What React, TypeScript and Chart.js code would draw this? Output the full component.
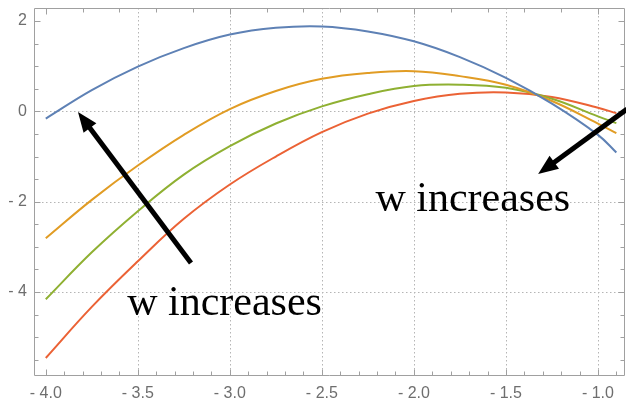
import React, { useEffect, useRef } from "react";
import { Chart, registerables } from "chart.js";

Chart.register(...registerables);

const xValues = [-4, -3.75, -3.5, -3.25, -3, -2.75, -2.5, -2.25, -2, -1.75, -1.5, -1.25, -1, -0.9];
const blueValues = [-0.16, 0.47, 0.99, 1.4, 1.7, 1.85, 1.88, 1.77, 1.55, 1.2, 0.74, 0.17, -0.52, -0.91];
const orangeValues = [-2.81, -1.96, -1.2, -0.52, 0.05, 0.45, 0.72, 0.85, 0.89, 0.78, 0.59, 0.23, -0.27, -0.48];
const greenValues = [-4.16, -3.12, -2.21, -1.4, -0.77, -0.27, 0.11, 0.38, 0.56, 0.59, 0.52, 0.28, -0.11, -0.26];
const redValues = [-5.46, -4.33, -3.32, -2.38, -1.62, -1.0, -0.46, -0.05, 0.23, 0.39, 0.42, 0.32, 0.08, -0.04];

const seriesColors = ["#5E81B5", "#E19C24", "#8FB032", "#EB6235"];

const xTickValues = [-4, -3.5, -3, -2.5, -2, -1.5, -1];
const yTickValues = [-4, -2, 0, 2];
const xGridValues = [-3.5, -3, -2.5, -2, -1.5, -1];
const yGridValues = [-4, -2, 0];

const X_MIN = -4.064;
const X_MAX = -0.853;
const Y_MIN = -5.837;
const Y_MAX = 2.288;

// annotations in data units: [tailX, tailY, headX, headY]
const arrowLeft = [-3.211, -3.358, -3.825, -0.015];
const arrowRight = [-0.842, 0.05, -1.325, -1.388];
const labelText = "w increases";
const labelLeft = [-3.558, -4.51];
const labelRight = [-2.209, -2.207];

const xLabel = (v: number) => (v < 0 ? "- " + Math.abs(v).toFixed(1) : v.toFixed(1));
const yLabel = (v: number) => (v < 0 ? "- " + Math.abs(v).toFixed(0) : v.toFixed(0));

function range(a: number, b: number, step: number) {
  const out: number[] = [];
  const n = Math.round((b - a) / step);
  for (let i = 0; i <= n; i++) out.push(Math.round((a + i * step) * 1000) / 1000);
  return out;
}

const framePlugin = {
  id: "framePlugin",
  beforeDatasetsDraw(chart: any) {
    const { ctx, chartArea, scales } = chart;
    const { left, right, top, bottom } = chartArea;
    ctx.save();
    ctx.strokeStyle = "#b5b5b5";
    ctx.lineWidth = 1;
    ctx.setLineDash([1.5, 2.5]);
    xGridValues.forEach((v) => {
      const px = Math.round(scales.x.getPixelForValue(v)) + 0.5;
      ctx.beginPath();
      ctx.moveTo(px, top);
      ctx.lineTo(px, bottom);
      ctx.stroke();
    });
    yGridValues.forEach((v) => {
      const py = Math.round(scales.y.getPixelForValue(v)) + 0.5;
      ctx.beginPath();
      ctx.moveTo(left, py);
      ctx.lineTo(right, py);
      ctx.stroke();
    });
    ctx.restore();
  },
  afterDatasetsDraw(chart: any) {
    const { ctx, chartArea, scales } = chart;
    const { left, right, top, bottom } = chartArea;
    ctx.save();
    ctx.strokeStyle = "#a0a0a0";
    ctx.lineWidth = 1;
    ctx.setLineDash([]);
    const L = Math.round(left) + 0.5;
    const R = Math.round(right) - 0.5;
    const T = Math.round(top) + 0.5;
    const B = Math.round(bottom) + 0.5;
    ctx.beginPath();
    ctx.rect(L, T, R - L, B - T);
    ctx.stroke();
    range(-4, -0.9, 0.1).forEach((v) => {
      const px = Math.round(scales.x.getPixelForValue(v)) + 0.5;
      const major = Math.abs(v * 2 - Math.round(v * 2)) < 1e-6;
      const len = major ? 6 : 4;
      ctx.beginPath();
      ctx.moveTo(px, B);
      ctx.lineTo(px, B - len);
      ctx.stroke();
    });
    range(-4, -1, 0.2).forEach((v) => {
      const px = Math.round(scales.x.getPixelForValue(v)) + 0.5;
      const major = Math.abs(v - Math.round(v)) < 1e-6;
      const len = major ? 6 : 4;
      ctx.beginPath();
      ctx.moveTo(px, T);
      ctx.lineTo(px, T + len);
      ctx.stroke();
    });
    range(-5.5, 2, 0.5).forEach((v) => {
      const py = Math.round(scales.y.getPixelForValue(v)) + 0.5;
      const major = Math.abs(v / 2 - Math.round(v / 2)) < 1e-6;
      const len = major ? 6 : 4;
      ctx.beginPath();
      ctx.moveTo(L, py);
      ctx.lineTo(L + len, py);
      ctx.moveTo(R, py);
      ctx.lineTo(R - len, py);
      ctx.stroke();
    });
    ctx.restore();

    const drawArrow = (a: number[]) => {
      const x1 = scales.x.getPixelForValue(a[0]);
      const y1 = scales.y.getPixelForValue(a[1]);
      const x2 = scales.x.getPixelForValue(a[2]);
      const y2 = scales.y.getPixelForValue(a[3]);
      const ang = Math.atan2(y2 - y1, x2 - x1);
      const headLen = 20;
      const headHalf = 8;
      const bx = x2 - headLen * Math.cos(ang);
      const by = y2 - headLen * Math.sin(ang);
      ctx.save();
      ctx.strokeStyle = "#000";
      ctx.fillStyle = "#000";
      ctx.lineWidth = 5;
      ctx.lineCap = "butt";
      ctx.beginPath();
      ctx.moveTo(x1, y1);
      ctx.lineTo(bx + 2 * Math.cos(ang), by + 2 * Math.sin(ang));
      ctx.stroke();
      ctx.beginPath();
      ctx.moveTo(x2, y2);
      ctx.lineTo(bx + headHalf * Math.sin(ang), by - headHalf * Math.cos(ang));
      ctx.lineTo(bx - headHalf * Math.sin(ang), by + headHalf * Math.cos(ang));
      ctx.closePath();
      ctx.fill();
      ctx.restore();
    };
    drawArrow(arrowLeft);
    drawArrow(arrowRight);

    ctx.save();
    ctx.fillStyle = "#000";
    ctx.font = '42px "Liberation Serif", "Times New Roman", serif';
    ctx.textBaseline = "alphabetic";
    ctx.textAlign = "left";
    ctx.fillText(labelText, scales.x.getPixelForValue(labelLeft[0]), scales.y.getPixelForValue(labelLeft[1]));
    ctx.fillText(labelText, scales.x.getPixelForValue(labelRight[0]), scales.y.getPixelForValue(labelRight[1]));
    ctx.restore();
  },
};

export default function App() {
  const canvasRef = useRef<HTMLCanvasElement | null>(null);

  useEffect(() => {
    if (!canvasRef.current) return;
    const mk = (vals: number[], color: string) => ({
      data: xValues.map((x, i) => ({ x, y: vals[i] })),
      borderColor: color,
      borderWidth: 2,
      pointRadius: 0,
      tension: 0.4,
      fill: false,
    });
    const chart = new Chart(canvasRef.current, {
      type: "line",
      data: {
        datasets: [
          mk(blueValues, seriesColors[0]),
          mk(orangeValues, seriesColors[1]),
          mk(greenValues, seriesColors[2]),
          mk(redValues, seriesColors[3]),
        ],
      },
      options: {
        responsive: false,
        animation: false,
        devicePixelRatio: 1,
        layout: { padding: { top: 8, right: 1, left: 0, bottom: 0 } },
        plugins: { legend: { display: false }, tooltip: { enabled: false } },
        scales: {
          x: {
            type: "linear",
            min: X_MIN,
            max: X_MAX,
            grid: { display: false, drawTicks: false },
            border: { display: false },
            afterFit: (s: any) => {
              s.height = 24;
              s.paddingLeft = 0;
              s.paddingRight = 0;
            },
            afterBuildTicks: (s: any) => {
              s.ticks = xTickValues.map((v) => ({ value: v }));
            },
            ticks: {
              padding: 9,
              maxRotation: 0,
              autoSkip: false,
              color: "#6e6e6e",
              font: { family: '"Liberation Sans", Arial, sans-serif', size: 16 },
              callback: (v: any) => xLabel(Number(v)),
            },
          },
          y: {
            type: "linear",
            min: Y_MIN,
            max: Y_MAX,
            grid: { display: false, drawTicks: false },
            border: { display: false },
            afterFit: (s: any) => {
              s.width = 34;
              s.paddingTop = 0;
              s.paddingBottom = 0;
            },
            afterBuildTicks: (s: any) => {
              s.ticks = yTickValues.map((v) => ({ value: v }));
            },
            ticks: {
              padding: 7,
              autoSkip: false,
              color: "#6e6e6e",
              font: { family: '"Liberation Sans", Arial, sans-serif', size: 16 },
              callback: (v: any) => yLabel(Number(v)),
            },
          },
        },
      },
      plugins: [framePlugin],
    });
    return () => chart.destroy();
  }, []);

  return (
    <div style={{ position: "fixed", left: 0, top: 0, width: 626, height: 399, background: "#fff" }}>
      <canvas ref={canvasRef} width={626} height={399} style={{ width: 626, height: 399, display: "block" }} />
    </div>
  );
}
